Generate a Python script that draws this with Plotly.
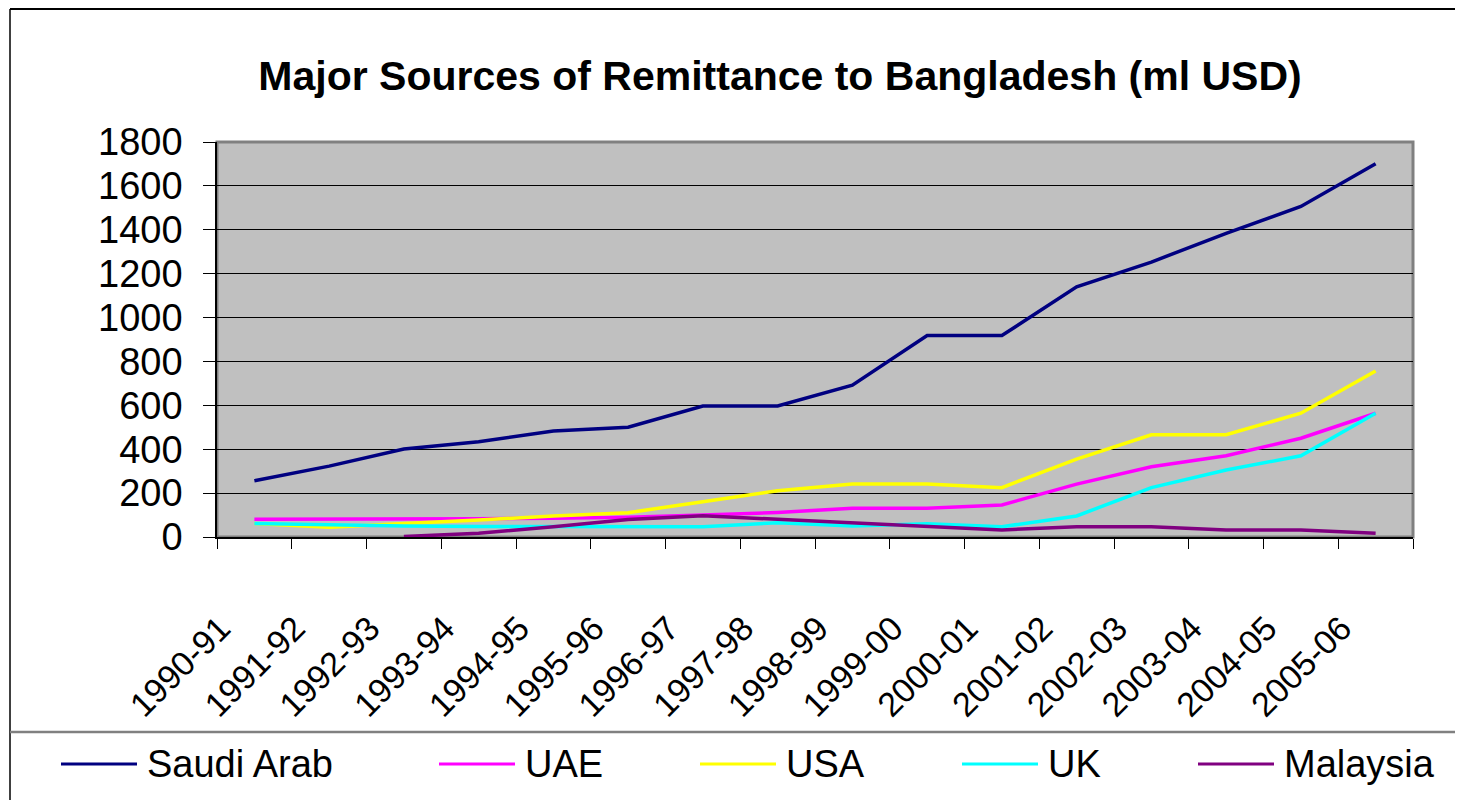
import plotly.graph_objects as go

###############################################################################
# Data (ml USD)
###############################################################################
years = ["1990-91", "1991-92", "1992-93", "1993-94", "1994-95", "1995-96",
         "1996-97", "1997-98", "1998-99", "1999-00", "2000-01", "2001-02",
         "2002-03", "2003-04", "2004-05", "2005-06"]

saudi_arab = [256, 323, 401, 434, 483, 500, 597, 597, 692, 918, 918, 1140,
              1253, 1384, 1506, 1701]
uae = [81, 81, 81, 83, 86, 90, 100, 112, 131, 131, 146, 241, 320, 370, 450, 564]
usa = [62, 44, 62, 77, 96, 111, 161, 211, 241, 241, 225, 355, 466, 466, 564, 756]
uk = [62, 55, 50, 48, 47, 47, 47, 65, 50, 60, 47, 96, 225, 305, 370, 564]
malaysia = [None, None, 2, 17, 47, 80, 97, 81, 62, 47, 32, 47, 47, 32, 32, 17]

series = [
    ("Saudi Arab", saudi_arab, "#000080"),
    ("UAE", uae, "#FF00FF"),
    ("USA", usa, "#FFFF00"),
    ("UK", uk, "#00FFFF"),
    ("Malaysia", malaysia, "#800080"),
]

###############################################################################
# Page geometry (pixels on the page) -> figure / paper coordinates
###############################################################################
W, H = 1463, 800
OFF = 8                                 # browser body margin
PL, PR, PT, PB = 217, 1413, 142, 537    # plot area edges on the page


def fx(px):
    return (px - PL) / (PR - PL)


def fy(py):
    return (PB - py) / (PB - PT)


FONT = "Liberation Sans, Arial, sans-serif"

fig = go.Figure()

for name, vals, color in series:
    fig.add_trace(go.Scatter(
        x=years, y=vals, name=name, mode="lines",
        line=dict(color=color, width=3.5),
        connectgaps=False,
        showlegend=False,
    ))

# Hand-drawn legend (long line samples like the original)
legend_pos = [61, 439, 700, 962, 1198]   # left end of each sample line, px
for (name, vals, color), x0 in zip(series, legend_pos):
    fig.add_shape(type="line", xref="paper", yref="paper",
                  x0=fx(x0), x1=fx(x0 + 76), y0=fy(764), y1=fy(764),
                  line=dict(color=color, width=3))
    fig.add_annotation(xref="paper", yref="paper", x=fx(x0 + 84), y=fy(764),
                       text=name, showarrow=False, xanchor="left",
                       yanchor="middle",
                       font=dict(family=FONT, size=38, color="black"))

# Outer chart border (top + left only are visible) and legend separator
fig.add_shape(type="line", xref="paper", yref="paper",
              x0=fx(10), x1=fx(1463), y0=fy(9), y1=fy(9),
              line=dict(color="black", width=2))
fig.add_shape(type="line", xref="paper", yref="paper",
              x0=fx(10), x1=fx(10), y0=fy(9), y1=fy(800),
              line=dict(color="black", width=1.5))
fig.add_shape(type="line", xref="paper", yref="paper",
              x0=fx(10), x1=fx(1463), y0=fy(732), y1=fy(732),
              line=dict(color="#808080", width=2.5))

# Plot area border (grey)
fig.add_shape(type="rect", xref="paper", yref="paper",
              x0=0, x1=1, y0=0, y1=1,
              line=dict(color="#808080", width=3), layer="below")

fig.update_layout(
    width=W - OFF, height=H - OFF,
    margin=dict(l=PL - OFF, r=W - PR, t=PT - OFF, b=H - PB),
    paper_bgcolor="white",
    plot_bgcolor="#C0C0C0",
    font=dict(family=FONT, color="black"),
    title=dict(
        text="<b>Major Sources of Remittance to Bangladesh (ml USD)</b>",
        x=(780 - OFF) / (W - OFF), xanchor="center", xref="container",
        y=1 - (76 - OFF) / (H - OFF), yanchor="middle", yref="container",
        font=dict(family=FONT, size=41, color="black"),
    ),
    showlegend=False,
)

fig.update_xaxes(
    type="category",
    range=[-0.5, len(years) - 0.5],
    showgrid=False,
    showline=True, linecolor="black", linewidth=1.5,
    ticks="outside", tickson="boundaries", ticklen=10,
    tickcolor="black", tickwidth=1,
    tickangle=-45,
    tickfont=dict(family=FONT, size=34, color="black"),
    ticklabelstandoff=56,
    ticklabelshift=-34,
)

fig.update_yaxes(
    range=[0, 1800], dtick=200,
    showgrid=True, gridcolor="black", gridwidth=1,
    zeroline=False,
    showline=True, linecolor="black", linewidth=1.5,
    ticks="outside", ticklen=12, tickcolor="black", tickwidth=1,
    tickfont=dict(family=FONT, size=38, color="black"),
    ticklabelstandoff=13,
)

fig.write_html("out.html")
